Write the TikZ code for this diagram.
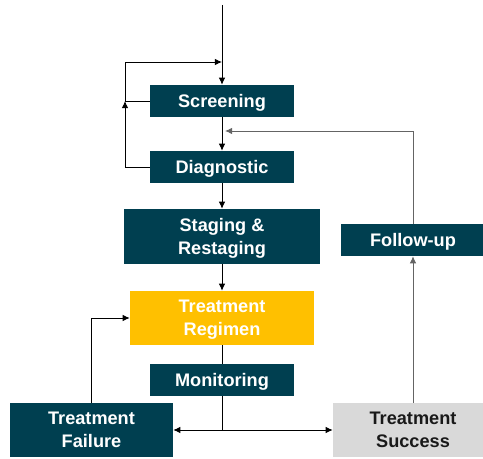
\documentclass[tikz,border=0pt]{standalone}
\usepackage{fontspec}
\setmainfont{Liberation Sans}
\usetikzlibrary{arrows.meta}
\definecolor{darkteal}{RGB}{0,63,80}
\definecolor{amber}{RGB}{255,192,0}
\definecolor{lightgrey}{RGB}{217,217,217}
\definecolor{linegrey}{RGB}{100,100,100}

\begin{document}
\begin{tikzpicture}[x=0.03cm, y=-0.03cm,
  box/.style={rectangle, fill=darkteal, text=white, inner sep=0pt, align=center,
    text depth=0pt, font=\fontsize{15.5}{20}\selectfont\bfseries},
  flow/.style={-{Latex[length=6pt,width=5.5pt]}, line width=0.8pt},
  flowgrey/.style={flow, draw=linegrey},
  plain/.style={line width=0.8pt}]
\clip (0,0) rectangle (483,459);
\useasboundingbox (0,0) rectangle (483,459);
\node[box, minimum width=4.32cm, minimum height=0.96cm] (screening) at (222,101) {Screening};
\node[box, minimum width=4.32cm, minimum height=0.96cm] (diagnostic) at (222,167) {Diagnostic};
\node[box, minimum width=5.88cm, minimum height=1.65cm] (staging) at (222,236.5) {Staging \&\\Restaging};
\node[box, fill=amber, minimum width=5.52cm, minimum height=1.62cm] (regimen) at (222,318) {Treatment\\Regimen};
\node[box, minimum width=4.32cm, minimum height=0.96cm] (monitoring) at (222,380) {Monitoring};
\node[box, minimum width=4.89cm, minimum height=1.62cm] (failure) at (91.5,430) {Treatment\\Failure};
\node[box, fill=lightgrey, text=black!90, minimum width=4.8cm, minimum height=1.62cm] (success) at (413,430) {Treatment\\Success};
\node[box, minimum width=4.32cm, minimum height=0.96cm] (followup) at (413,240) {Follow-up};
\coordinate (start) at (222,5);
\coordinate (loopjoin) at (125,101);
\coordinate (loopin) at (222,62);
\coordinate (split) at (222,430);
\coordinate (feedback) at (225,131);
% main chain
\draw[flow] (start) -- (screening);
\draw[flow] (screening) -- (diagnostic);
\draw[flow] (diagnostic) -- (staging);
\draw[flow] (staging) -- (regimen);
\draw[plain] (regimen) -- (monitoring);
% repeat loop
\draw[plain] (screening.west) -- (loopjoin);
\draw[flow] (diagnostic.west) -| (loopjoin);
\draw[flow] (loopjoin) |- (loopin);
% outcomes
\draw[plain] (monitoring) -- (split);
\draw[flow] (split) -- (failure);
\draw[flow] (split) -- (success);
\draw[flow] (failure.north) |- (regimen.west);
\draw[flowgrey] (success) -- (followup);
\draw[flowgrey] (followup.north) |- (feedback);
\end{tikzpicture}
\end{document}
